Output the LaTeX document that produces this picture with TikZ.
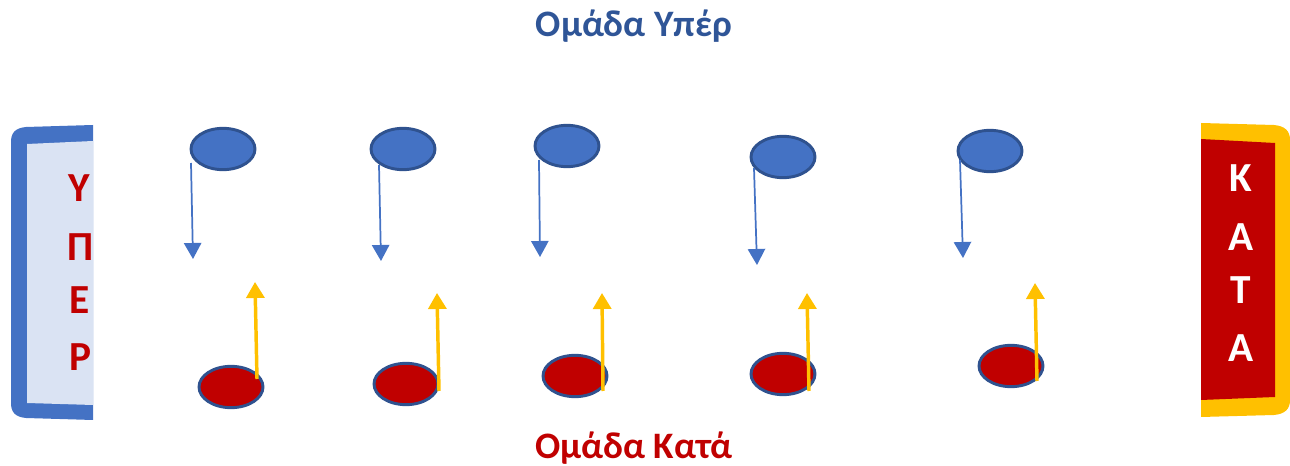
\documentclass[tikz,border=0pt]{standalone}
\usepackage{fontspec}
\setmainfont{Carlito}
\usetikzlibrary{shapes.geometric,arrows.meta}
\definecolor{titleblue}{HTML}{2F5597}
\definecolor{darkred}{HTML}{C00000}
\definecolor{ellblue}{HTML}{4472C4}
\definecolor{ellborder}{HTML}{2F528F}
\definecolor{lightblue}{HTML}{DAE3F3}
\definecolor{gold}{HTML}{FFC000}
\tikzset{
  bluedot/.style={ellipse, fill=ellblue, draw=ellborder, line width=2.2pt, minimum width=48pt, minimum height=31pt, inner sep=0pt},
  reddot/.style={ellipse, fill=darkred, draw=ellborder, line width=2.2pt, minimum width=48pt, minimum height=31pt, inner sep=0pt},
  downarrow/.style={draw=ellblue, line width=1.3pt, -{Triangle[length=12pt 0,width=13pt 0]}},
  uparrow/.style={draw=gold, line width=2.6pt, -{Triangle[length=12pt 0,width=13.5pt 0]}},
  title/.style={font=\fontsize{28}{32}\selectfont\bfseries},
  sideletter/.style={font=\fontsize{31}{34}\selectfont\bfseries, inner sep=0pt}
}
\begin{document}
\begin{tikzpicture}[x=0.75pt,y=-0.75pt]
\useasboundingbox (0,0) rectangle (1290,466);

% titles
\node[title, text=titleblue] (top) at (634,26) {Ομάδα Υπέρ};
\node[title, text=darkred] (bottom) at (634,448) {Ομάδα Κατά};

% left bracket
\fill[ellblue] (93,125) -- (26,127) .. controls (15,128) and (11,133) .. (11,142)
  -- (11,403) .. controls (11,412) and (15,417) .. (26,418) -- (93,420) -- cycle;
\fill[lightblue] (93,141) -- (27,144) -- (27,403) -- (93,405) -- cycle;
\begin{scope}
  \clip (27,141) rectangle (93,405);
  \node[sideletter, text=darkred] (u1) at (79,188) {Υ};
  \node[sideletter, text=darkred] (u2) at (81,247) {Π};
  \node[sideletter, text=darkred] (u3) at (80,300) {Ε};
  \node[sideletter, text=darkred] (u4) at (80,357) {Ρ};
\end{scope}

% right bracket
\fill[gold] (1201,123) -- (1274,125) .. controls (1285,126) and (1290,131) .. (1290,140)
  -- (1290,400) .. controls (1290,409) and (1285,414) .. (1274,415) -- (1201,417) -- cycle;
\fill[darkred] (1201,139) -- (1275,143) -- (1275,397) -- (1201,400) -- cycle;
\node[sideletter, text=white] (k1) at (1241,178) {Κ};
\node[sideletter, text=white] (k2) at (1241,237) {Α};
\node[sideletter, text=white] (k3) at (1241,290) {Τ};
\node[sideletter, text=white] (k4) at (1241,348) {Α};

% blue dots
\node[bluedot] (b1) at (223,149) {};
\node[bluedot] (b2) at (403,149) {};
\node[bluedot] (b3) at (567,146) {};
\node[bluedot] (b4) at (783,157) {};
\node[bluedot] (b5) at (990,151) {};

% red dots
\node[reddot] (r1) at (231,387) {};
\node[reddot] (r2) at (406,384) {};
\node[reddot] (r3) at (575,376) {};
\node[reddot] (r4) at (783,374) {};
\node[reddot] (r5) at (1011,366) {};

% blue arrow ends
\coordinate (bs1) at (191,163); \coordinate (be1) at (193,259);
\coordinate (bs2) at (379,165); \coordinate (be2) at (381,261);
\coordinate (bs3) at (539,160); \coordinate (be3) at (540,257);
\coordinate (bs4) at (754,168); \coordinate (be4) at (757,265);
\coordinate (bs5) at (960,160); \coordinate (be5) at (963,258);
\foreach \i in {1,...,5} \draw[downarrow] (bs\i) -- (be\i);

% yellow arrow ends
\coordinate (ys1) at (257,379); \coordinate (ye1) at (255,282);
\coordinate (ys2) at (439,391); \coordinate (ye2) at (437,293);
\coordinate (ys3) at (603,391); \coordinate (ye3) at (602,293);
\coordinate (ys4) at (809,391); \coordinate (ye4) at (807,293);
\coordinate (ys5) at (1037,381); \coordinate (ye5) at (1035,283);
\foreach \i in {1,...,5} \draw[uparrow] (ys\i) -- (ye\i);
\end{tikzpicture}
\end{document}
